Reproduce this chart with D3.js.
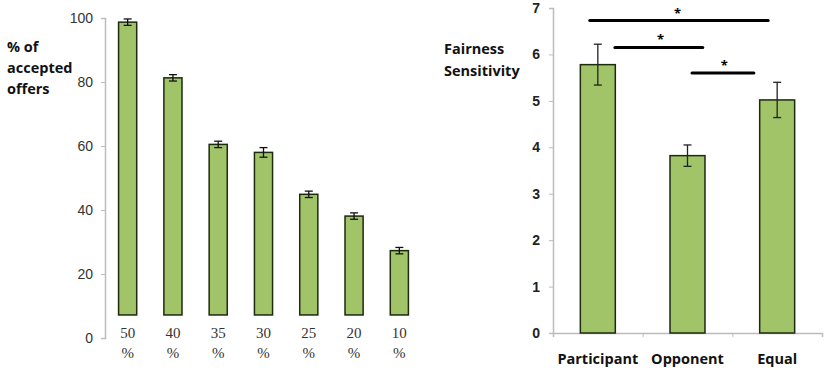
<!DOCTYPE html>
<html>
<head>
<meta charset="utf-8">
<script src="https://cdn.jsdelivr.net/npm/d3@7"></script>
<style>
  body { margin: 0; background: #fff; }
  svg { display: block; font-family: "Open Sans", "DejaVu Sans", sans-serif; }
</style>
</head>
<body>
<div id="chart"></div>
<script>
// left panel data
var offerLabels = ["50", "40", "35", "30", "25", "20", "10"];
var acceptedPct = [98.7, 81.3, 60.5, 58.0, 44.9, 38.1, 27.3];
var acceptedErr = [1.0, 1.0, 1.0, 1.5, 1.0, 1.0, 1.0];
var leftTicks = [0, 20, 40, 60, 80, 100];

// right panel data
var groups = ["Participant", "Opponent", "Equal"];
var fairness = [5.78, 3.82, 5.02];
var fairnessErr = [0.44, 0.23, 0.38];
var rightTicks = [0, 1, 2, 3, 4, 5, 6, 7];
// significance lines, x in band units (0 = left edge of axis, 3 = right end)
var sigBars = [
  { x0: 0.41, x1: 2.40, level: 6.73, star: 1.39 },
  { x0: 0.69, x1: 1.67, level: 6.15, star: 1.20 },
  { x0: 1.55, x1: 2.24, level: 5.6, star: 1.91 }
];

var barFill = "#a2c468", barStroke = "#1c2a0e";

var svg = d3.select("#chart").append("svg")
  .attr("width", 835)
  .attr("height", 371);

// ---------- left chart ----------
var yL = d3.scaleLinear().domain([0, 100]).range([338, 18]);
var xL = d3.scaleBand().domain(offerLabels).range([105, 422]).paddingInner(0.6).paddingOuter(0.3);

var gL = svg.append("g");
var axL = gL.append("g")
  .attr("transform", "translate(105,0)")
  .call(d3.axisLeft(yL).tickValues(leftTicks).tickSize(4).tickPadding(8));
axL.select(".domain").attr("stroke", "#bcbcbc").attr("stroke-width", 1.5);
axL.selectAll(".tick line").attr("stroke", "#bcbcbc");
axL.selectAll(".tick text")
  .attr("fill", "#333")
  .style("font-size", "14px")
  .style("font-family", "Liberation Sans, sans-serif");

// bars stop above the category labels, like in the original
var barBase = yL(7.2);
gL.selectAll("rect.bar")
  .data(acceptedPct)
  .enter()
  .append("rect")
  .attr("x", function (d, i) { return xL(offerLabels[i]); })
  .attr("y", function (d) { return yL(d); })
  .attr("width", xL.bandwidth())
  .attr("height", function (d) { return barBase - yL(d); })
  .attr("fill", barFill)
  .attr("stroke", barStroke)
  .attr("stroke-width", 1.5);

var errL = gL.selectAll("g.err").data(acceptedPct).enter().append("g")
  .attr("stroke", "#111").attr("stroke-width", 1.3);
errL.append("line")
  .attr("x1", function (d, i) { return xL(offerLabels[i]) + xL.bandwidth() / 2; })
  .attr("x2", function (d, i) { return xL(offerLabels[i]) + xL.bandwidth() / 2; })
  .attr("y1", function (d, i) { return yL(d + acceptedErr[i]); })
  .attr("y2", function (d, i) { return yL(d - acceptedErr[i]); });
[1, -1].forEach(function (s) {
  errL.append("line")
    .attr("x1", function (d, i) { return xL(offerLabels[i]) + xL.bandwidth() / 2 - 4; })
    .attr("x2", function (d, i) { return xL(offerLabels[i]) + xL.bandwidth() / 2 + 4; })
    .attr("y1", function (d, i) { return yL(d + s * acceptedErr[i]); })
    .attr("y2", function (d, i) { return yL(d + s * acceptedErr[i]); });
});

var catL = gL.selectAll("text.cat").data(offerLabels).enter().append("text")
  .attr("x", function (d) { return xL(d) + xL.bandwidth() / 2; })
  .attr("text-anchor", "middle")
  .attr("fill", "#333")
  .style("font-family", "Liberation Serif, serif")
  .style("font-size", "15px");
catL.append("tspan").attr("x", function (d) { return xL(d) + xL.bandwidth() / 2; }).attr("y", 338).text(function (d) { return d; });
catL.append("tspan").attr("x", function (d) { return xL(d) + xL.bandwidth() / 2; }).attr("y", 358).text("%");

var titleL = gL.append("text")
  .attr("x", 7)
  .style("font-size", "14.5px")
  .style("font-weight", "bold")
  .attr("fill", "#111");
["% of", "accepted", "offers"].forEach(function (t, i) {
  titleL.append("tspan").attr("x", 7).attr("y", 52 + i * 21).text(t);
});

// ---------- right chart ----------
var yR = d3.scaleLinear().domain([0, 7]).range([333, 8]);
var xR = d3.scaleBand().domain(groups).range([553, 822]).padding(0.61).paddingOuter(0.305);

var gR = svg.append("g");
var ayR = gR.append("g")
  .attr("transform", "translate(553,0)")
  .call(d3.axisLeft(yR).tickValues(rightTicks).tickFormat(d3.format("d")).tickSize(4).tickPadding(9));
ayR.select(".domain").attr("stroke", "#bcbcbc").attr("stroke-width", 1.5);
ayR.selectAll(".tick line").attr("stroke", "#bcbcbc");
ayR.selectAll(".tick text")
  .attr("fill", "#222")
  .style("font-size", "14px")
  .style("font-weight", "bold");

// x axis: baseline with ticks at band boundaries, no labels from the axis
var bandScale = d3.scaleLinear().domain([0, 3]).range([553, 822]);
var axR = gR.append("g")
  .attr("transform", "translate(0," + yR(0) + ")")
  .call(d3.axisBottom(bandScale).tickValues([0, 1, 2, 3]).tickSize(4).tickFormat(""));
axR.select(".domain").attr("stroke", "#bcbcbc").attr("stroke-width", 1.5);
axR.selectAll(".tick line").attr("stroke", "#bcbcbc");

gR.selectAll("rect.bar")
  .data(fairness)
  .enter()
  .append("rect")
  .attr("x", function (d, i) { return xR(groups[i]); })
  .attr("y", function (d) { return yR(d); })
  .attr("width", xR.bandwidth())
  .attr("height", function (d) { return yR(0) - yR(d); })
  .attr("fill", barFill)
  .attr("stroke", barStroke)
  .attr("stroke-width", 1.5);

var errR = gR.selectAll("g.err").data(fairness).enter().append("g")
  .attr("stroke", "#222").attr("stroke-width", 1.3);
errR.append("line")
  .attr("x1", function (d, i) { return xR(groups[i]) + xR.bandwidth() / 2; })
  .attr("x2", function (d, i) { return xR(groups[i]) + xR.bandwidth() / 2; })
  .attr("y1", function (d, i) { return yR(d + fairnessErr[i]); })
  .attr("y2", function (d, i) { return yR(d - fairnessErr[i]); });
[1, -1].forEach(function (s) {
  errR.append("line")
    .attr("x1", function (d, i) { return xR(groups[i]) + xR.bandwidth() / 2 - 4; })
    .attr("x2", function (d, i) { return xR(groups[i]) + xR.bandwidth() / 2 + 4; })
    .attr("y1", function (d, i) { return yR(d + s * fairnessErr[i]); })
    .attr("y2", function (d, i) { return yR(d + s * fairnessErr[i]); });
});

gR.selectAll("text.cat").data(groups).enter().append("text")
  .attr("x", function (d) { return xR(d) + xR.bandwidth() / 2; })
  .attr("y", 364)
  .attr("text-anchor", "middle")
  .attr("fill", "#111")
  .style("font-size", "14.5px")
  .style("font-weight", "bold")
  .text(function (d) { return d; });

// significance lines
gR.selectAll("line.sig").data(sigBars).enter().append("line")
  .attr("x1", function (d) { return bandScale(d.x0); })
  .attr("x2", function (d) { return bandScale(d.x1); })
  .attr("y1", function (d) { return yR(d.level); })
  .attr("y2", function (d) { return yR(d.level); })
  .attr("stroke", "#000")
  .attr("stroke-width", 3)
  .attr("stroke-linecap", "round");
gR.selectAll("text.star").data(sigBars).enter().append("text")
  .attr("x", function (d) { return bandScale(d.star); })
  .attr("y", function (d) { return yR(d.level) - 3; })
  .attr("text-anchor", "middle")
  .style("font-size", "13px")
  .style("font-weight", "bold")
  .text("*");

var titleR = gR.append("text")
  .style("font-size", "14.5px")
  .style("font-weight", "bold")
  .attr("fill", "#111");
["Fairness", "Sensitivity"].forEach(function (t, i) {
  titleR.append("tspan").attr("x", 444).attr("y", 54 + i * 22).text(t);
});
</script>
</body>
</html>
